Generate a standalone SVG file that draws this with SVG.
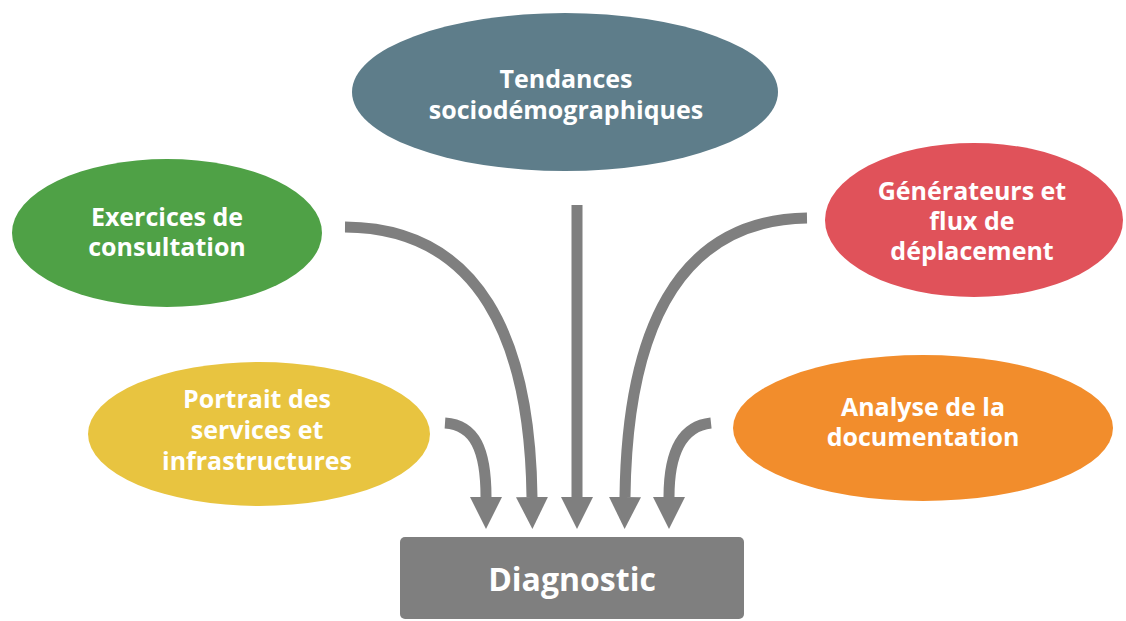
<svg xmlns="http://www.w3.org/2000/svg" width="1126" height="621" viewBox="0 0 1126 621">
<style>
.lbl{font-family:"Open Sans","Liberation Sans",sans-serif;font-weight:700;font-size:25px;fill:#ffffff;text-anchor:middle}
.big{font-size:32px}
.arr{fill:none;stroke:#7f7f7f;stroke-width:11;marker-end:url(#ah)}
</style>
<defs>
<marker id="ah" viewBox="0 0 32 32" refX="0" refY="16" markerWidth="32" markerHeight="32" markerUnits="userSpaceOnUse" orient="auto">
<path d="M0,0 L32,16 L0,32 z" fill="#7f7f7f"/>
</marker>
</defs>
<rect width="1126" height="621" fill="#ffffff"/>
<g id="tendances">
<ellipse cx="565" cy="92" rx="213" ry="79" fill="#5e7d8a"/>
<text class="lbl" x="566" y="88">Tendances</text>
<text class="lbl" x="566" y="119">sociodémographiques</text>
</g>
<g id="exercices">
<ellipse cx="167" cy="233" rx="155" ry="74" fill="#4fa146"/>
<text class="lbl" x="167" y="226">Exercices de</text>
<text class="lbl" x="167" y="256">consultation</text>
</g>
<g id="generateurs">
<ellipse cx="974" cy="220" rx="149" ry="77" fill="#e0525a"/>
<text class="lbl" x="972" y="200">Générateurs et</text>
<text class="lbl" x="972" y="230">flux de</text>
<text class="lbl" x="972" y="260">déplacement</text>
</g>
<g id="portrait">
<ellipse cx="259" cy="434" rx="171" ry="72" fill="#e8c440"/>
<text class="lbl" x="257" y="408">Portrait des</text>
<text class="lbl" x="257" y="439">services et</text>
<text class="lbl" x="257" y="470">infrastructures</text>
</g>
<g id="analyse">
<ellipse cx="923" cy="428" rx="190" ry="73" fill="#f28d2c"/>
<text class="lbl" x="923" y="416">Analyse de la</text>
<text class="lbl" x="923" y="446">documentation</text>
</g>
<g id="diagnostic">
<rect x="400" y="537" width="344" height="82" rx="5" fill="#7f7f7f"/>
<text class="lbl big" x="572" y="591">Diagnostic</text>
</g>
<g id="connectors">
<path class="arr" d="M345,227 C480,228 530,340 532,497"/>
<path class="arr" d="M445,423 C475,425 486,450 486,497"/>
<path class="arr" d="M577,205 L577,497"/>
<path class="arr" d="M807,218 C675,220 627,335 625,497"/>
<path class="arr" d="M711,423 C683,426 669,450 669,497"/>
</g>
</svg>
